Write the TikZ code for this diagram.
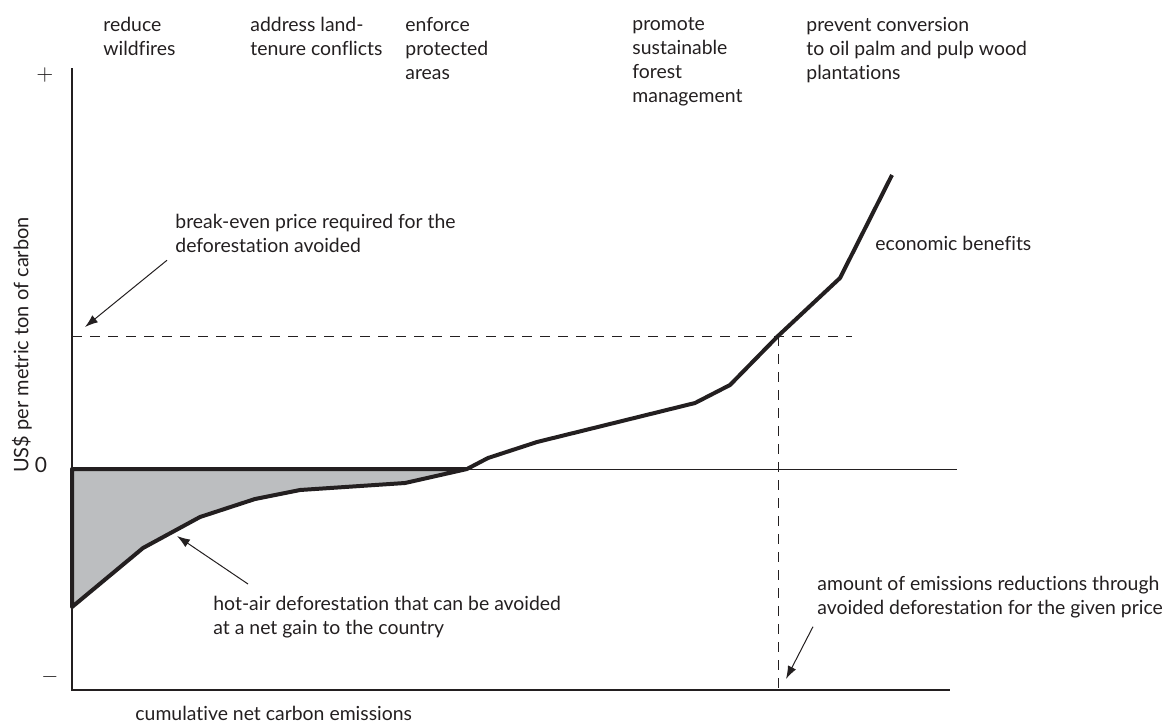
\documentclass[tikz,border=0pt]{standalone}
\usepackage{fontspec}
\setmainfont{Lato}[Ligatures={NoCommon, NoRare}]
\usetikzlibrary{arrows.meta}

\definecolor{ink}{HTML}{231F20}
\definecolor{hotair}{HTML}{BCBEC0}

\begin{document}
\begin{tikzpicture}[%
  x = .5pt, y = -.5pt,
  every node/.style = {font=\fontsize{9.7}{12}\selectfont, text=ink,
                       inner sep=0pt},
  axis/.style    = {draw=ink, line width=.6pt},
  curve/.style   = {draw=ink, line width=2pt, line join=round},
  guide/.style   = {draw=ink, line width=.5pt, dash pattern=on 5pt off 4pt},
  pointer/.style = {draw=ink, line width=.5pt,
                    -{Latex[length=6.5pt, width=4.5pt]}},
  note/.style    = {align=left, anchor=north west},
  sign/.style    = {font=\fontsize{10.5}{12}\selectfont}
]
  \useasboundingbox (0,0) rectangle (1171,723);

  % axes
  \coordinate (O)  at (72,690);
  \coordinate (Y)  at (72,68);
  \coordinate (X)  at (950,690);
  \coordinate (Z0) at (72,469);
  \coordinate (Z1) at (957,469);
  \draw[axis] (Y) -- (O) -- (X);
  \draw[axis, line width=.45pt] (Z0) -- (Z1);

  \node[sign] (plus)  at (45,75)  {$+$};
  \node[sign] (zero)  at (41,465) {0};
  \node[sign] (minus) at (50,677) {$-$};
  \node[rotate=90, font=\fontsize{10}{12}\selectfont] (ylab) at (22,345)
       {US\$ per metric ton of carbon};
  \node[anchor=base west] (xlab) at (135,720)
       {cumulative net carbon emissions};

  % hot-air area
  \filldraw[curve, fill=hotair] (Z0) -- (467,469) -- (405,483) -- (345,487)
       -- (300,490) -- (255,499) -- (200,517) -- (143,548) -- (72,607)
       -- cycle;

  % cost curve
  \draw[curve] (467,469) -- (488,458) -- (537,442) -- (695,403)
       -- (730,385) -- (778,336) coordinate (hit) -- (840,278) -- (892,175);

  % price and amount
  \draw[guide] (72,336) -- (852,336);
  \draw[guide] (hit) -- (hit |- O);

  % measures
  \node[note] (fire) at (103,17) {reduce\\wildfires};
  \node[note] (land) at (250,17) {address land-\\tenure conflicts};
  \node[note] (park) at (405,17) {enforce\\protected\\areas};
  \node[note] (sfm)  at (632,17)
       {promote\\sustainable\\forest\\management};
  \node[note] (palm) at (806,17)
       {prevent conversion\\to oil palm and pulp wood\\plantations};

  % Annotations
  \node[note] (be)  at (175,214)
       {break-even price required for the\\deforestation avoided};
  \node[anchor=base west] (econ) at (875,250) {economic benefits};
  \node[note] (hot) at (213,596)
       {hot-air deforestation that can be avoided\\at a net gain to the country};
  \node[note] (amt) at (817,576)
       {amount of emissions reductions through\\avoided deforestation for the given price};

  % Connections
  \draw[pointer] ([shift={(-8,7)}]be.south west) -- (85,327);
  \draw[pointer] ([shift={(35,-12)}]hot.north west) -- (177,536);
  \draw[pointer] ([shift={(-4,8)}]amt.south west) -- (786,679);

\end{tikzpicture}
\end{document}
